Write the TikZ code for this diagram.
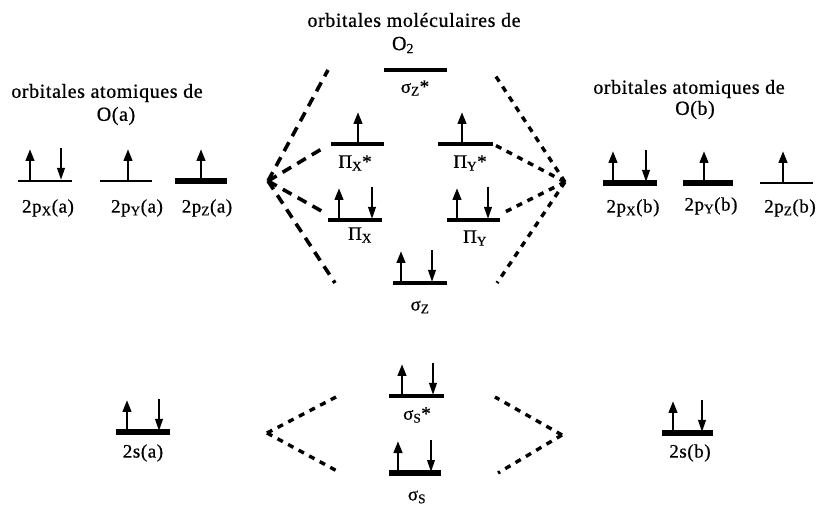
\documentclass[tikz,border=0pt]{standalone}
\usepackage{fontspec}
\setmainfont{Liberation Serif}[LetterSpace=3, BoldFont=Liberation Serif, BoldFeatures={FakeBold=0.7, LetterSpace=3}]
\usetikzlibrary{arrows.meta}
\newcommand{\sbx}[1]{\textsubscript{#1}}
\begin{document}
\begin{tikzpicture}[x=1pt,y=-1pt,
  thinlvl/.style={line width=2.8pt},
  medlvl/.style={line width=3.4pt},
  thicklvl/.style={line width=5.5pt},
  eup/.style={line width=2.7pt,-{Triangle[length=12pt,width=8.5pt]}},
  edown/.style={line width=2.2pt,-{Triangle[length=12pt,width=7.5pt]}},
  corr/.style={line width=3.6pt, dash pattern=on 10pt off 7pt},
  corrdot/.style={line width=3.4pt, dash pattern=on 6pt off 6pt},
  lbl/.style={font=\fontsize{19}{22}\selectfont\bfseries, inner sep=0pt},
  ttl/.style={font=\fontsize{20}{24}\selectfont\bfseries, inner sep=0pt}]
\useasboundingbox (0,0) rectangle (823,505);

% titles
\node[ttl] (tmo) at (414,20) {orbitales moléculaires de};
\node[ttl] (tmo2) at (403,45) {O\sbx{2}};
\node[ttl] (ta) at (107,93) {orbitales atomiques de};
\node[ttl] (ta2) at (116,116) {O(a)};
\node[ttl] (tb) at (689,89) {orbitales atomiques de};
\node[ttl] (tb2) at (695,110) {O(b)};

% ---- atomic levels O(a)
\coordinate (pxa1) at (18,181); \coordinate (pxa2) at (72,181);
\draw[thinlvl] (pxa1) -- (pxa2);
\draw[eup] (30,181) -- (30,149);
\draw[edown] (61,148) -- (61,180);
\coordinate (pya1) at (100,181); \coordinate (pya2) at (152,181);
\draw[thinlvl] (pya1) -- (pya2);
\draw[eup] (128,181) -- (128,149);
\coordinate (pza1) at (175,181); \coordinate (pza2) at (227,181);
\draw[thicklvl] (pza1) -- (pza2);
\draw[eup] (201,181) -- (201,149);
\node[lbl] (lpxa) at (48,208) {2p\sbx{X}(a)};
\node[lbl] (lpya) at (137,208) {2p\sbx{Y}(a)};
\node[lbl] (lpza) at (207,208) {2p\sbx{Z}(a)};

% ---- atomic levels O(b)
\coordinate (pxb1) at (603,183); \coordinate (pxb2) at (657,183);
\draw[thicklvl] (pxb1) -- (pxb2);
\draw[eup] (613,183) -- (613,151);
\draw[edown] (646,150) -- (646,182);
\coordinate (pyb1) at (683,183); \coordinate (pyb2) at (733,183);
\draw[thicklvl] (pyb1) -- (pyb2);
\draw[eup] (704,183) -- (704,151);
\coordinate (pzb1) at (760,183); \coordinate (pzb2) at (813,183);
\draw[thinlvl] (pzb1) -- (pzb2);
\draw[eup] (783,183) -- (783,151);
\node[lbl] (lpxb) at (633,208) {2p\sbx{X}(b)};
\node[lbl] (lpyb) at (711,206) {2p\sbx{Y}(b)};
\node[lbl] (lpzb) at (790,208) {2p\sbx{Z}(b)};

% ---- molecular levels
\coordinate (sz*1) at (384,70); \coordinate (sz*2) at (447,70);
\draw[medlvl] (sz*1) -- (sz*2);
\node[lbl] (lszs) at (415,88) {σ\sbx{Z}*};

\coordinate (px*1) at (331,144); \coordinate (px*2) at (384,144);
\draw[medlvl] (px*1) -- (px*2);
\draw[eup] (358,144) -- (358,112);
\node[lbl] (lpxs) at (355,163) {Π\sbx{X}*};

\coordinate (py*1) at (438,144); \coordinate (py*2) at (493,144);
\draw[medlvl] (py*1) -- (py*2);
\draw[eup] (462,144) -- (462,112);
\node[lbl] (lpys) at (470,163) {Π\sbx{Y}*};

\coordinate (pix1) at (328,220); \coordinate (pix2) at (382,220);
\draw[medlvl] (pix1) -- (pix2);
\draw[eup] (339,220) -- (339,188);
\draw[edown] (372,187) -- (372,219);
\node[lbl] (lpix) at (360,235) {Π\sbx{X}};

\coordinate (piy1) at (447,220); \coordinate (piy2) at (500,220);
\draw[medlvl] (piy1) -- (piy2);
\draw[eup] (457,220) -- (457,188);
\draw[edown] (488,187) -- (488,219);
\node[lbl] (lpiy) at (475,238) {Π\sbx{Y}};

\coordinate (sz1) at (393,283); \coordinate (sz2) at (447,283);
\draw[medlvl] (sz1) -- (sz2);
\draw[eup] (401,283) -- (401,251);
\draw[edown] (432,250) -- (432,282);
\node[lbl] (lsz) at (420,307) {σ\sbx{Z}};

\coordinate (ss*1) at (389,396); \coordinate (ss*2) at (444,396);
\draw[medlvl] (ss*1) -- (ss*2);
\draw[eup] (402,396) -- (402,364);
\draw[edown] (433,363) -- (433,395);
\node[lbl] (lsss) at (417,415) {σ\sbx{S}*};

\coordinate (ss1) at (389,473); \coordinate (ss2) at (441,473);
\draw[thicklvl] (ss1) -- (ss2);
\draw[eup] (398,473) -- (398,441);
\draw[edown] (431,440) -- (431,472);
\node[lbl] (lss) at (417,497) {σ\sbx{S}};

% ---- 2s levels
\coordinate (sa1) at (116,432); \coordinate (sa2) at (170,432);
\draw[thicklvl] (sa1) -- (sa2);
\draw[eup] (127,432) -- (127,400);
\draw[edown] (159,399) -- (159,431);
\node[lbl] (lsa) at (143,453) {2s(a)};

\coordinate (sb1) at (662,433); \coordinate (sb2) at (713,433);
\draw[thicklvl] (sb1) -- (sb2);
\draw[eup] (673,433) -- (673,401);
\draw[edown] (702,400) -- (702,432);
\node[lbl] (lsb) at (690,453) {2s(b)};

% ---- correlation lines
\coordinate (La) at (268,181);
\coordinate (Rb) at (565,182);
\coordinate (Lt) at (328,70);
\coordinate (Lpx) at (325,147);
\coordinate (Lpi) at (325,213);
\coordinate (Lsz) at (335,283);
\coordinate (Rt) at (493,72);
\coordinate (Rpy) at (493,144);
\coordinate (Rpi) at (503,213);
\coordinate (Rsz) at (497,283);
\draw[corr] (La) -- (Lt);
\draw[corr] (La) -- (Lpx);
\draw[corr] (La) -- (Lpi);
\draw[corr] (La) -- (Lsz);
\draw[corrdot] (Rb) -- (Rt);
\draw[corrdot] (Rb) -- (Rpy);
\draw[corrdot] (Rb) -- (Rpi);
\draw[corrdot] (Rb) -- (Rsz);

\coordinate (La2) at (267,433);
\coordinate (Rb2) at (562,435);
\coordinate (Lss1) at (336,397);
\coordinate (Lss2) at (337,471);
\coordinate (Rss1) at (495,397);
\coordinate (Rss2) at (498,473);
\draw[corrdot] (La2) -- (Lss1);
\draw[corrdot] (La2) -- (Lss2);
\draw[corrdot] (Rb2) -- (Rss1);
\draw[corrdot] (Rb2) -- (Rss2);
\end{tikzpicture}
\end{document}
